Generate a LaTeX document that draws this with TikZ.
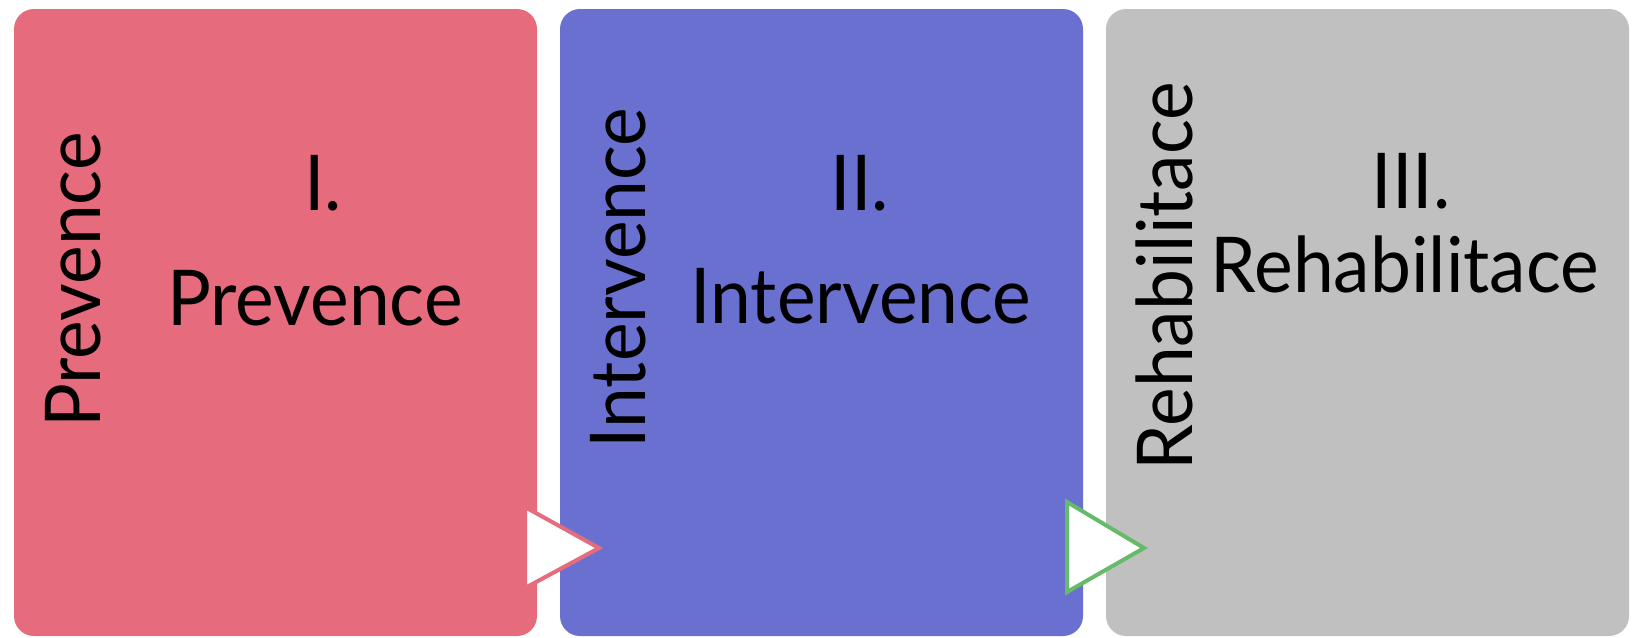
\documentclass[tikz,border=0pt]{standalone}
\usepackage{fontspec}
\setmainfont{Lato}[FakeStretch=0.95]
\definecolor{pinkbox}{HTML}{E66C7D}
\definecolor{bluebox}{HTML}{6A70D0}
\definecolor{graybox}{HTML}{C0C0C0}
\definecolor{greenedge}{HTML}{66BB6A}
\begin{document}
\begin{tikzpicture}[x=1pt,y=-1pt,
  phase/.style={rounded corners=20pt},
  big/.style={font=\fontsize{77}{80}\selectfont, inner sep=0pt, anchor=base, text=black},
  side/.style={big, rotate=90},
  marker/.style={fill=white, line width=4pt, line join=miter}]
\useasboundingbox (0,0) rectangle (1637,637);
\fill[pinkbox,phase] (14,9) rectangle (537,636);
\fill[bluebox,phase] (560,9) rectangle (1083,636);
\fill[graybox,phase] (1106,9) rectangle (1629,636);
% horizontal titles
\node[big] (n1) at (323,210) {I.};
\node[big] (t1) at (315,325) {Prevence};
\node[big] (n2) at (860,210) {II.};
\node[big] (t2) at (861,323) {Intervence};
\node[big] (n3) at (1411,208) {III.};
\node[big] (t3) at (1405,292) {Rehabilitace};
% vertical labels
\node[side] (v1) at (100,280) {Prevence};
\node[side] (v2) at (645,278) {Intervence};
\node[side] (v3) at (1192,276) {Rehabilitace};
% markers
\draw[marker, draw=pinkbox] (525,507) -- (525,588) -- (599,548) -- cycle;
\draw[marker, draw=greenedge] (1067,502) -- (1067,592) -- (1144,548) -- cycle;
\end{tikzpicture}
\end{document}
